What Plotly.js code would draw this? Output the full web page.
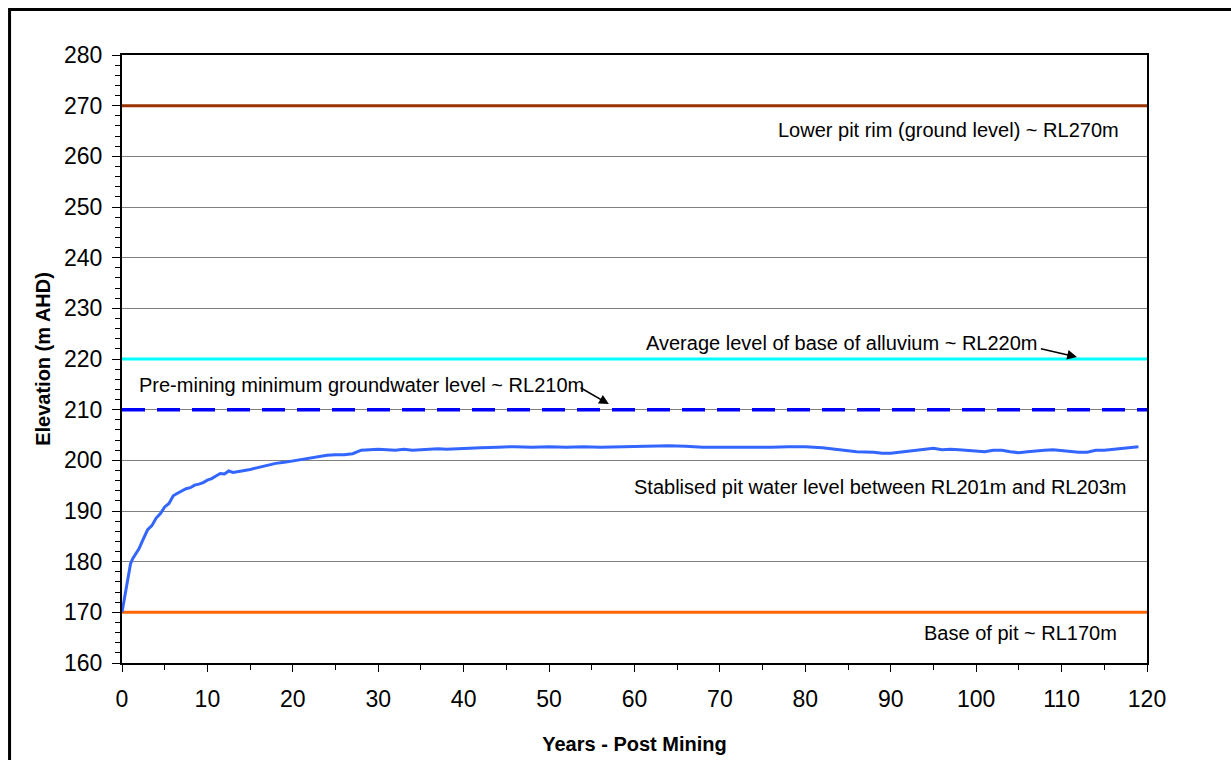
<!DOCTYPE html>
<html>
<head>
<meta charset="utf-8">
<script src="https://cdn.plot.ly/plotly-3.0.1.min.js"></script>
<style>
  html, body { margin: 0; padding: 0; background: #ffffff; }
  #chart { width: 1231px; height: 760px; }
</style>
</head>
<body>
<div id="chart"></div>
<script>
// Modelled pit lake recovery: years after mining vs water level (m AHD)
const years = [
  0, 0.25, 0.5, 0.75, 1, 1.25, 1.5, 2, 2.5, 3, 3.5, 4, 4.5, 5, 5.5, 6, 6.5, 7, 7.5, 8,
  8.5, 9, 9.5, 10, 10.5, 11, 11.5, 12, 12.5, 13, 13.5, 14, 15, 16, 17, 17.5, 18, 19, 20,
  21, 22, 23, 24, 25, 26, 27, 28, 29, 30, 31, 32, 33, 34, 35, 36, 37, 38, 40, 42, 44, 46,
  48, 50, 52, 54, 56, 58, 60, 62, 64, 66, 68, 70, 72, 74, 76, 78, 80, 82, 84, 86, 88, 89,
  90, 91, 92, 93, 94, 95, 96, 97, 98, 100, 101, 102, 103, 104, 105, 106, 107, 108, 109,
  110, 111, 112, 113, 114, 115, 116, 117, 118, 119
];
const pitLevel = [
  170.0, 172.6, 175.1, 177.6, 179.6, 180.6, 181.3, 182.6, 184.5, 186.3, 187.1, 188.6, 189.5, 190.8, 191.5, 193.0, 193.5, 194.0, 194.4, 194.6,
  195.1, 195.3, 195.6, 196.1, 196.4, 196.9, 197.4, 197.3, 197.9, 197.6, 197.8, 197.9, 198.2, 198.6, 199.0, 199.2, 199.4, 199.6, 199.9,
  200.1, 200.5, 200.8, 201.0, 201.1, 201.1, 201.3, 202.0, 202.1, 202.2, 202.1, 202.0, 202.2, 202.0, 202.1, 202.2, 202.3, 202.2, 202.4, 202.5, 202.6, 202.7,
  202.6, 202.7, 202.6, 202.7, 202.6, 202.7, 202.7, 202.9, 202.9, 202.8, 202.6, 202.6, 202.6, 202.5, 202.6, 202.7, 202.7, 202.5, 202.1, 201.7, 201.6, 201.4,
  201.4, 201.6, 201.8, 202.1, 202.3, 202.4, 202.1, 202.2, 202.1, 201.9, 201.7, 202.0, 202.0, 201.7, 201.5, 201.7, 201.9, 202.0, 202.1,
  201.9, 201.7, 201.6, 201.6, 202.0, 202.0, 202.2, 202.4, 202.6, 202.7
];

// Reference elevations drawn as horizontal lines across the record
const levelNames  = ['Lower pit rim', 'Base of alluvium', 'Pre-mining groundwater', 'Base of pit'];
const levelValues = [270, 220, 210, 170];
const levelColors = ['#993300', '#00FFFF', '#0000FF', '#FF6600'];
const levelDashes = ['solid', 'solid', '23px,12px', 'solid'];
const levelWidths = [3, 3, 3.5, 3];
const spanYears   = [0, 120];

// Axis ticks
const xTicks = [0, 10, 20, 30, 40, 50, 60, 70, 80, 90, 100, 110, 120];
const yTicks = [160, 170, 180, 190, 200, 210, 220, 230, 240, 250, 260, 270, 280];

const FONT = 'Arial, "Liberation Sans", sans-serif';

const traces = levelValues.map((v, i) => ({
  type: 'scatter',
  mode: 'lines',
  name: levelNames[i],
  x: spanYears,
  y: spanYears.map(() => v),
  line: { color: levelColors[i], width: levelWidths[i], dash: levelDashes[i] },
  hoverinfo: 'skip'
}));

traces.push({
  type: 'scatter',
  mode: 'lines',
  name: 'Pit water level',
  x: years,
  y: pitLevel,
  line: { color: '#3366FF', width: 3 }
});

const noteFont = { family: FONT, size: 20, color: '#000000' };
const note = (text, x, y) => ({ text, x, y, xref: 'x', yref: 'y', showarrow: false, font: noteFont });
const pointer = (x, y, ax, ay) => ({
  text: '', x, y, ax, ay, xref: 'x', yref: 'y', axref: 'x', ayref: 'y',
  showarrow: true, arrowhead: 2, arrowsize: 1.3, arrowwidth: 1.5, arrowcolor: '#000000'
});

const layout = {
  width: 1231,
  height: 760,
  margin: { l: 122, r: 84, t: 55, b: 97 },
  paper_bgcolor: '#ffffff',
  plot_bgcolor: '#ffffff',
  showlegend: false,
  font: { family: FONT, color: '#000000' },
  xaxis: {
    range: [0, 120],
    tickvals: xTicks,
    ticktext: xTicks.map(String),
    ticks: 'outside',
    ticklen: 7,
    tickwidth: 1,
    tickcolor: '#000000',
    ticklabelstandoff: 7,
    minor: { dtick: 5, ticks: 'outside', ticklen: 5, tickwidth: 1, tickcolor: '#000000', showgrid: false },
    showgrid: false,
    zeroline: false,
    showline: true,
    linecolor: '#000000',
    linewidth: 2,
    mirror: true,
    tickfont: { family: FONT, size: 23, color: '#000000' },
    title: { text: '<b>Years - Post Mining</b>', font: { family: FONT, size: 20, color: '#000000' }, standoff: 26 }
  },
  yaxis: {
    range: [160, 280],
    tickvals: yTicks,
    ticktext: yTicks.map(String),
    ticks: 'outside',
    ticklen: 8,
    tickwidth: 1,
    tickcolor: '#000000',
    ticklabelstandoff: 5,
    minor: { dtick: 2, ticks: 'outside', ticklen: 5, tickwidth: 1, tickcolor: '#000000', showgrid: false },
    showgrid: true,
    gridcolor: '#808080',
    gridwidth: 1,
    zeroline: false,
    showline: true,
    linecolor: '#000000',
    linewidth: 2,
    mirror: true,
    tickfont: { family: FONT, size: 23, color: '#000000' },
    title: { text: '<b>Elevation (m AHD)</b>', font: { family: FONT, size: 20, color: '#000000' }, standoff: 8 }
  },
  annotations: [
    note('Lower pit rim (ground level) ~ RL270m', 96.8, 265.2),
    note('Average level of base of alluvium ~ RL220m', 84.25, 223.1),
    note('Pre-mining minimum groundwater level ~ RL210m', 28.0, 214.9),
    note('Stablised pit water level between RL201m and RL203m', 88.8, 194.7),
    note('Base of pit ~ RL170m', 105.2, 165.9),
    pointer(111.8, 220.4, 107.4, 222.1),
    pointer(57.0, 211.1, 53.5, 214.5)
  ],
  shapes: [{
    type: 'rect', xref: 'paper', yref: 'paper',
    x0: -0.1097, x1: 1.2, y0: -0.2, y1: 1.0748,
    line: { color: '#000000', width: 3 }, fillcolor: 'rgba(0,0,0,0)', layer: 'above'
  }]
};

Plotly.newPlot('chart', traces, layout, { displayModeBar: false, staticPlot: true });
</script>
</body>
</html>
